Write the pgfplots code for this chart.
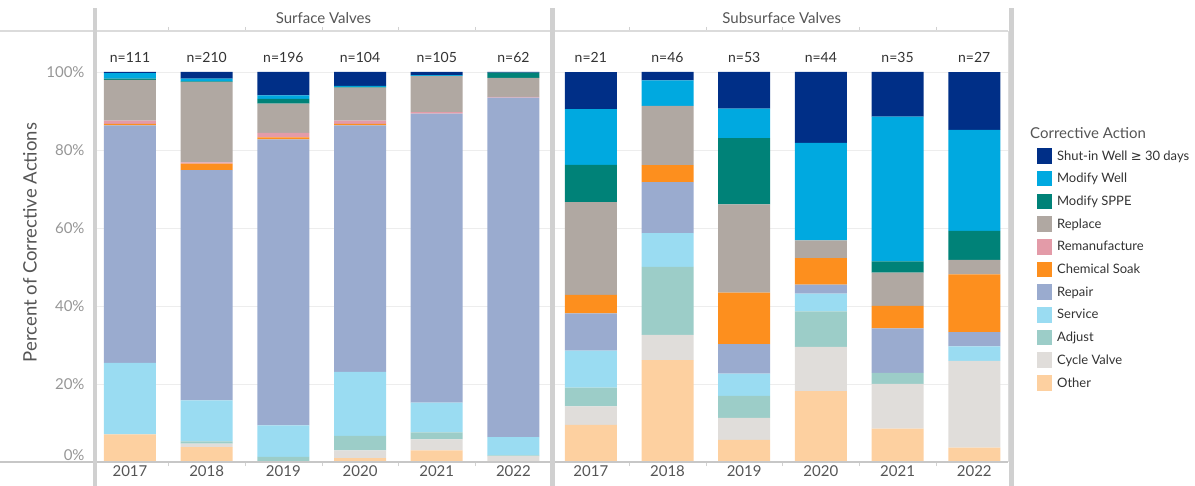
\documentclass[border=0pt]{standalone}
\usepackage{pgfplots}
\pgfplotsset{compat=1.18}
\usepackage{pgfplotstable}
\usepackage{fontspec}
\setmainfont{Lato}
\newfontfamily\dejavu{DejaVu Sans}

\definecolor{cShut}{RGB}{0,47,135}
\definecolor{cModWell}{RGB}{0,169,224}
\definecolor{cSPPE}{RGB}{0,130,120}
\definecolor{cReplace}{RGB}{176,168,162}
\definecolor{cReman}{RGB}{227,155,168}
\definecolor{cChem}{RGB}{253,143,30}
\definecolor{cRepair}{RGB}{154,171,207}
\definecolor{cService}{RGB}{154,220,242}
\definecolor{cAdjust}{RGB}{156,205,200}
\definecolor{cCycle}{RGB}{224,221,218}
\definecolor{cOther}{RGB}{253,208,160}
\definecolor{sep}{RGB}{208,208,208}
\definecolor{lbl}{RGB}{85,85,85}
\definecolor{tlbl}{RGB}{150,150,150}

\pgfplotstableread{
x Other Cycle Adjust Service Repair Chem Reman Replace SPPE ModWell Shutin
0 7.1 0 0 18.3 60.9 0.4 0.8 10.5 0.3 1.4 0.3
1 3.8 0.9 0.6 10.5 59.0 1.7 0.3 20.6 0.2 0.7 1.7
2 0 0 1.3 8.1 73.3 0.5 1.2 7.5 1.2 0.9 6.0
3 1.0 2.0 3.7 16.4 63.2 0.4 0.8 8.5 0.2 0.2 3.6
4 3.0 2.8 1.8 7.6 74.1 0 0.4 9.3 0 0.2 0.8
5 0 1.5 0.2 4.7 87.0 0 0.2 4.9 1.3 0 0.2
}\surface

\pgfplotstableread{
x Other Cycle Adjust Service Repair Chem Reman Replace SPPE ModWell Shutin
0 9.52 4.76 4.76 9.52 9.52 4.76 0 23.81 9.52 14.29 9.52
1 26.09 6.52 17.39 8.70 13.04 4.35 0 15.22 0 6.52 2.17
2 5.66 5.66 5.66 5.66 7.55 13.21 0 22.64 16.98 7.55 9.43
3 18.18 11.36 9.09 4.55 2.27 6.82 0 4.55 0 25.00 18.18
4 8.57 11.43 2.86 0 11.43 5.71 0 8.57 2.86 37.14 11.43
5 3.70 22.22 0 3.70 3.70 14.81 0 3.70 7.41 25.93 14.81
}\subsurface

\pgfplotsset{
  panel/.style={
    anchor=south west, scale only axis,
    width=453bp, height=431bp,
    ymin=0, ymax=110.5,
    ybar stacked, bar width=52bp,
    axis line style={draw=none},
    major tick length=0pt,
    minor tick length=4bp,
    tick align=outside,
    minor x tick style={draw=black!18},
    xtick={0,...,5},
    minor xtick={0.5,1.5,2.5,3.5,4.5},
    xticklabels={2017,2018,2019,2020,2021,2022},
    xticklabel style={font=\fontsize{15bp}{18bp}\selectfont, text=lbl, inner sep=3bp},
    ytick={0,20,...,100},
    ymajorgrids, grid style={draw=black!7, line width=0.8bp},
    clip=false,
  },
}

\begin{document}
\begin{tikzpicture}
\path[use as bounding box] (-96.7bp,-24bp) rectangle ++(1195bp,486bp);

% left panel
\begin{axis}[panel, xmin=-0.434, xmax=5.473,
  yticklabels={\raisebox{14bp}{0\%},20\%,40\%,60\%,80\%,100\%},
  yticklabel style={font=\fontsize{15bp}{18bp}\selectfont, text=tlbl, xshift=-8.7bp},
]
\addplot[fill=cOther, draw=none] table[x=x,y=Other]{\surface};
\addplot[fill=cCycle, draw=none] table[x=x,y=Cycle]{\surface};
\addplot[fill=cAdjust, draw=none] table[x=x,y=Adjust]{\surface};
\addplot[fill=cService, draw=none] table[x=x,y=Service]{\surface};
\addplot[fill=cRepair, draw=none] table[x=x,y=Repair]{\surface};
\addplot[fill=cChem, draw=none] table[x=x,y=Chem]{\surface};
\addplot[fill=cReman, draw=none] table[x=x,y=Reman]{\surface};
\addplot[fill=cReplace, draw=none] table[x=x,y=Replace]{\surface};
\addplot[fill=cSPPE, draw=none] table[x=x,y=SPPE]{\surface};
\addplot[fill=cModWell, draw=none] table[x=x,y=ModWell]{\surface};
\addplot[fill=cShut, draw=none] table[x=x,y=Shutin]{\surface};
\foreach \k/\n in {0/111,1/210,2/196,3/104,4/105,5/62}{
  \edef\temp{\noexpand\node[font=\noexpand\fontsize{14bp}{16bp}\noexpand\selectfont, text=black!80] at (axis cs:\k,103.6) {n=\n};}
  \temp
}
\end{axis}

% right panel
\begin{axis}[panel, xshift=458.6bp, xmin=-0.463, xmax=5.444,
  yticklabels={},
  reverse legend,
  legend image code/.code={\fill[#1] (0bp,-7.8bp) rectangle (15.6bp,7.8bp);},
  legend style={at={(1.0552,0.7332)}, anchor=north west, draw=none, fill=none,
    font=\fontsize{13bp}{15bp}\selectfont, text=black!80,
    nodes={inner sep=0pt, anchor=west}, row sep=7.1bp, column sep=5bp},
]
\addplot[fill=cOther, draw=none] table[x=x,y=Other]{\subsurface};
\addplot[fill=cCycle, draw=none] table[x=x,y=Cycle]{\subsurface};
\addplot[fill=cAdjust, draw=none] table[x=x,y=Adjust]{\subsurface};
\addplot[fill=cService, draw=none] table[x=x,y=Service]{\subsurface};
\addplot[fill=cRepair, draw=none] table[x=x,y=Repair]{\subsurface};
\addplot[fill=cChem, draw=none] table[x=x,y=Chem]{\subsurface};
\addplot[fill=cReman, draw=none] table[x=x,y=Reman]{\subsurface};
\addplot[fill=cReplace, draw=none] table[x=x,y=Replace]{\subsurface};
\addplot[fill=cSPPE, draw=none] table[x=x,y=SPPE]{\subsurface};
\addplot[fill=cModWell, draw=none] table[x=x,y=ModWell]{\subsurface};
\addplot[fill=cShut, draw=none] table[x=x,y=Shutin]{\subsurface};
\legend{Other,Cycle Valve,Adjust,Service,Repair,Chemical Soak,Remanufacture,Replace,Modify SPPE,Modify Well,Shut-in Well {\dejavu ≥} 30 days}
\foreach \k/\n in {0/21,1/46,2/53,3/44,4/35,5/27}{
  \edef\temp{\noexpand\node[font=\noexpand\fontsize{14bp}{16bp}\noexpand\selectfont, text=black!80] at (axis cs:\k,103.6) {n=\n};}
  \temp
}
\end{axis}

% frame decorations (image pixel coordinates, origin bottom-left of page)
\begin{scope}[shift={(-96.7bp,-24bp)}, x=1bp, y=1bp]
\draw[draw=black!14, line width=1.3bp] (0,455) -- (1008,455);
\draw[draw=black!22, line width=1.2bp] (0,24) -- (1008,24);
\draw[draw=black!14, line width=0.8bp] (1008,24) -- (1008,455);
\fill[sep] (92.7,0) rectangle (96.7,478);
\fill[sep] (550,0) rectangle (555.3,478);
\fill[sep] (1009,0) rectangle (1014,478);
\node[font=\fontsize{15bp}{18bp}\selectfont, text=lbl] at (323.4,468) {Surface Valves};
\node[font=\fontsize{15bp}{18bp}\selectfont, text=lbl] at (781.7,468) {Subsurface Valves};
\node[rotate=90, font=\fontsize{18.5bp}{21bp}\selectfont, text=lbl] at (30,243.5) {Percent of Corrective Actions};
\node[anchor=west, font=\fontsize{15bp}{18bp}\selectfont, text=lbl, inner sep=0pt] at (1030,353) {Corrective Action};
\end{scope}
\end{tikzpicture}
\end{document}
